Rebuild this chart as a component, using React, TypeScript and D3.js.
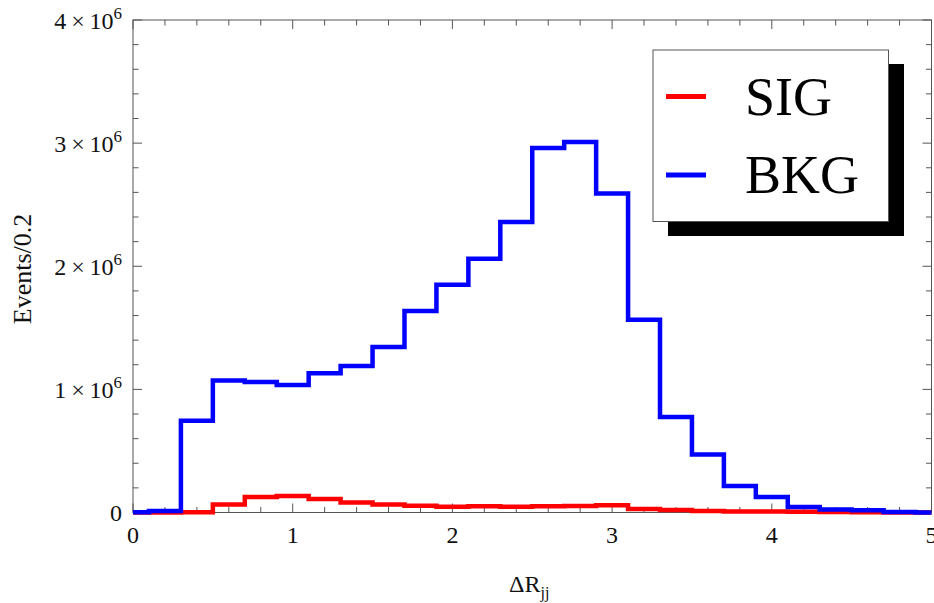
import React from "react";
import * as d3 from "d3";

// Bin centres (width 0.2), clipped to [0, 5]
const binCenters = [0, 0.2, 0.4, 0.6, 0.8, 1.0, 1.2, 1.4, 1.6, 1.8, 2.0, 2.2, 2.4, 2.6, 2.8, 3.0, 3.2, 3.4, 3.6, 3.8, 4.0, 4.2, 4.4, 4.6, 4.8, 5.0];
// Events per bin, in units of 1e6
const bkgValues = [0.003, 0.012, 0.745, 1.072, 1.06, 1.036, 1.13, 1.19, 1.345, 1.636, 1.85, 2.06, 2.36, 2.96, 3.01, 2.59, 1.565, 0.776, 0.471, 0.215, 0.126, 0.045, 0.025, 0.018, 0.004, 0.001];
const sigValues = [0.0, 0.0005, 0.003, 0.065, 0.126, 0.134, 0.11, 0.081, 0.065, 0.054, 0.047, 0.05, 0.046, 0.05, 0.052, 0.058, 0.028, 0.02, 0.012, 0.009, 0.008, 0.006, 0.004, 0.003, 0.001, 0.0];
const xTicks = [0, 1, 2, 3, 4, 5];
const yTicks = [0, 1, 2, 3, 4];
const legendLabels = ["SIG", "BKG"];

const W = 934, H = 603;
const L = 133, R = 931.5, T = 20, B = 512.5;
const FONT = "'Liberation Serif', 'DejaVu Serif', serif";

export default function App() {
  const x = d3.scaleLinear().domain([0, 5]).range([L, R]);
  const y = d3.scaleLinear().domain([0, 4]).range([B, T]);
  const halfW = 0.1;

  const stepPath = (vals: number[]) => {
    const pts: [number, number][] = binCenters.map((c, i) => [Math.max(0, c - halfW), vals[i]]);
    pts.push([5, vals[vals.length - 1]]);
    return d3.line<[number, number]>().x(d => x(d[0])).y(d => y(d[1])).curve(d3.curveStepAfter)(pts) || "";
  };

  const xMinor = d3.range(0, 5.0001, 0.2).filter(v => Math.abs(v - Math.round(v)) > 1e-6);
  const yMinor = d3.range(0, 4.0001, 0.2).filter(v => Math.abs(v - Math.round(v)) > 1e-6);
  const frame = "#555";
  const majorLen = 9, minorLen = 5.5;

  return (
    <svg width={W} height={H} style={{ position: "absolute", left: 0, top: 0, background: "#fff" }}>
      <rect x={0} y={0} width={W} height={H} fill="#fff" />
      {/* frame */}
      <rect x={L} y={T} width={R - L} height={B - T} fill="none" stroke={frame} strokeWidth={1} />
      {/* x ticks bottom & top */}
      {xTicks.map(v => (
        <g key={"xt" + v}>
          <line x1={x(v)} x2={x(v)} y1={B} y2={B - majorLen} stroke={frame} />
          <line x1={x(v)} x2={x(v)} y1={T} y2={T + majorLen} stroke={frame} />
          <text x={x(v)} y={543} textAnchor="middle" fontFamily={FONT} fontSize={24} fill="#111">{v}</text>
        </g>
      ))}
      {xMinor.map(v => (
        <g key={"xm" + v}>
          <line x1={x(v)} x2={x(v)} y1={B} y2={B - minorLen} stroke={frame} />
          <line x1={x(v)} x2={x(v)} y1={T} y2={T + minorLen} stroke={frame} />
        </g>
      ))}
      {yTicks.map(v => (
        <g key={"yt" + v}>
          <line x1={L} x2={L + majorLen} y1={y(v)} y2={y(v)} stroke={frame} />
          <line x1={R} x2={R - majorLen} y1={y(v)} y2={y(v)} stroke={frame} />
          {v === 0 ? (
            <text x={122} y={y(v) + 8} textAnchor="end" fontFamily={FONT} fontSize={24} fill="#111">0</text>
          ) : (
            <text x={122} y={y(v) + 8.5} textAnchor="end" fontFamily={FONT} fontSize={24} fill="#111" xmlSpace="preserve">
              {v}{"\u2009×\u2009"}10<tspan dy={-10} fontSize={17}>6</tspan>
            </text>
          )}
        </g>
      ))}
      {yMinor.map(v => (
        <g key={"ym" + v}>
          <line x1={L} x2={L + minorLen} y1={y(v)} y2={y(v)} stroke={frame} />
          <line x1={R} x2={R - minorLen} y1={y(v)} y2={y(v)} stroke={frame} />
        </g>
      ))}
      {/* histograms */}
      <path d={stepPath(sigValues)} fill="none" stroke="#ff0000" strokeWidth={4.5} strokeLinejoin="miter" />
      <path d={stepPath(bkgValues)} fill="none" stroke="#0000ff" strokeWidth={4.5} strokeLinejoin="miter" />
      {/* axis labels */}
      <text x={509} y={592} fontFamily={FONT} fontSize={24} fill="#111">
        ΔR<tspan dy={6} fontSize={16}>jj</tspan>
      </text>
      <text transform={`translate(31,269) rotate(-90)`} textAnchor="middle" fontFamily={FONT} fontSize={26} fill="#111">Events/0.2</text>
      {/* legend */}
      <rect x={668} y={64} width={236} height={172} fill="#000" />
      <rect x={653} y={50} width={235.5} height={171.5} fill="#fff" stroke="#555" strokeWidth={1} />
      {legendLabels.map((lab, i) => (
        <g key={lab}>
          <line x1={666} x2={706} y1={i === 0 ? 96.5 : 175} y2={i === 0 ? 96.5 : 175} stroke={i === 0 ? "#ff0000" : "#0000ff"} strokeWidth={5} />
          <text x={745} y={i === 0 ? 115 : 193} fontFamily={FONT} fontSize={54} fill="#000">{lab}</text>
        </g>
      ))}
    </svg>
  );
}
